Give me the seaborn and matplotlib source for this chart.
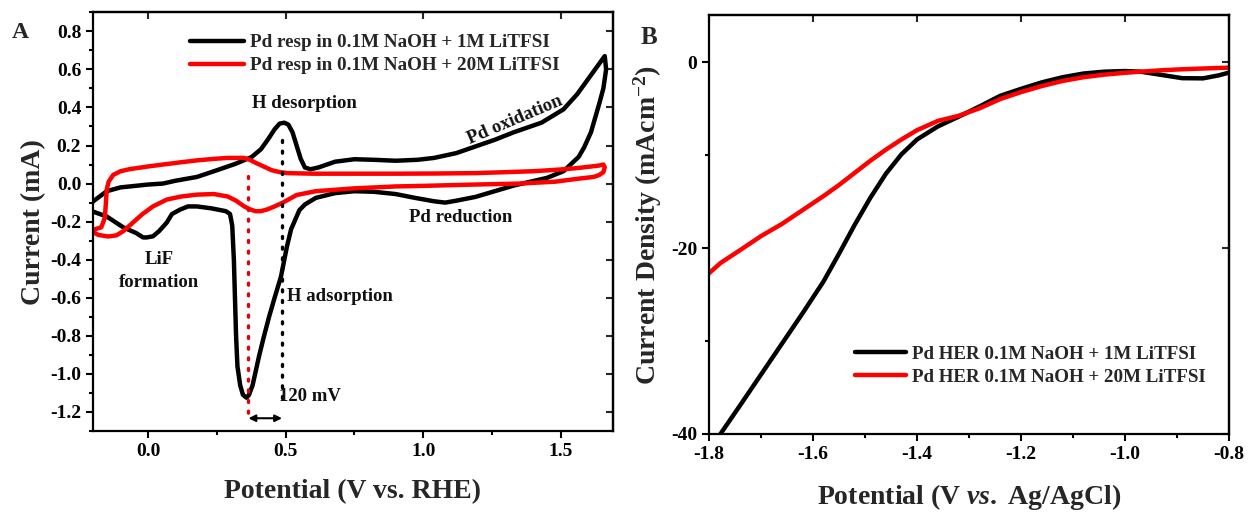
import matplotlib
matplotlib.use("Agg")
import matplotlib.pyplot as plt
import seaborn as sns
from matplotlib.ticker import MultipleLocator

# ---------------- Panel A: cyclic voltammograms ----------------
cv_1m_v = [-0.23, -0.2, -0.15, -0.1, -0.066, 0.0, 0.054, 0.1, 0.178, 0.25, 0.32, 0.377,
           0.41, 0.435, 0.46, 0.478, 0.495, 0.51, 0.525, 0.54, 0.555, 0.57, 0.59, 0.62,
           0.68, 0.75, 0.82, 0.9, 0.98, 1.04, 1.12, 1.2, 1.26, 1.33, 1.43, 1.51, 1.56,
           1.6, 1.635, 1.66,
           1.665, 1.655, 1.64, 1.61, 1.585, 1.565, 1.51, 1.45, 1.39, 1.33, 1.26, 1.19,
           1.12, 1.08, 1.04, 0.97, 0.9, 0.82, 0.75, 0.68, 0.61, 0.57, 0.55, 0.535, 0.52,
           0.505, 0.483, 0.46, 0.44, 0.42, 0.403, 0.38, 0.367, 0.358, 0.345, 0.335,
           0.325, 0.32, 0.316, 0.312, 0.306, 0.298, 0.283, 0.23, 0.178, 0.145, 0.116,
           0.087, 0.068, 0.04, 0.018, -0.005, -0.018, -0.043, -0.09, -0.15, -0.2, -0.23]
cv_1m_i = [-0.12, -0.094, -0.04, -0.02, -0.015, -0.005, 0.0, 0.015, 0.035, 0.07, 0.105, 0.14,
           0.18, 0.23, 0.285, 0.315, 0.32, 0.31, 0.27, 0.2, 0.13, 0.085, 0.075, 0.085,
           0.115, 0.128, 0.125, 0.12, 0.125, 0.135, 0.16, 0.2, 0.23, 0.27, 0.32, 0.39, 0.47,
           0.55, 0.62, 0.67,
           0.6, 0.5, 0.42, 0.27, 0.19, 0.14, 0.065, 0.03, 0.01, -0.01, -0.04, -0.07,
           -0.09, -0.1, -0.093, -0.075, -0.055, -0.043, -0.04, -0.05, -0.075, -0.11, -0.14,
           -0.19, -0.24, -0.33, -0.49, -0.6, -0.7, -0.81, -0.91, -1.06, -1.11, -1.125,
           -1.11, -1.06, -0.96, -0.8, -0.6, -0.4, -0.22, -0.16, -0.145, -0.13, -0.12,
           -0.12, -0.137, -0.16, -0.205, -0.25, -0.277, -0.283, -0.283, -0.26, -0.23,
           -0.173, -0.147, -0.12]

cv_20m_v = [-0.205, -0.17, -0.157, -0.153, -0.15, -0.143, -0.127, -0.1, -0.066, 0.0, 0.054,
            0.12, 0.178, 0.24, 0.29, 0.348, 0.37, 0.39, 0.42, 0.45, 0.48, 0.507, 0.6, 0.75,
            0.9, 1.05, 1.19, 1.3, 1.4, 1.48, 1.55, 1.6, 1.64, 1.655,
            1.66, 1.655, 1.64, 1.62, 1.56, 1.48, 1.35, 1.19, 1.0, 0.9, 0.75, 0.61, 0.54,
            0.49, 0.46, 0.435, 0.41, 0.39, 0.37, 0.35, 0.32, 0.29, 0.24, 0.178, 0.12, 0.068,
            0.018, -0.02, -0.055, -0.09, -0.115, -0.145, -0.18, -0.2, -0.205]
cv_20m_i = [-0.245, -0.23, -0.18, -0.1, -0.03, 0.01, 0.045, 0.065, 0.076, 0.09, 0.1,
            0.112, 0.122, 0.13, 0.135, 0.135, 0.125, 0.11, 0.09, 0.07, 0.06, 0.055, 0.052,
            0.052, 0.052, 0.053, 0.055, 0.06, 0.065, 0.072, 0.08, 0.088, 0.095, 0.1,
            0.085, 0.06, 0.045, 0.035, 0.025, 0.01, 0.0, -0.005, -0.012, -0.015, -0.025,
            -0.04, -0.06, -0.1, -0.12, -0.135, -0.145, -0.145, -0.135, -0.12, -0.09, -0.068,
            -0.055, -0.058, -0.068, -0.084, -0.12, -0.16, -0.205, -0.25, -0.272, -0.278,
            -0.27, -0.255, -0.245]

label_1m_A = "Pd resp in 0.1M NaOH + 1M LiTFSI"
label_20m_A = "Pd resp in 0.1M NaOH + 20M LiTFSI"

# H adsorption peak potentials (dotted guides) and their extents
peak_20m_v, peak_20m_span = 0.365, (0.04, -1.25)
peak_1m_v, peak_1m_span = 0.487, (0.23, -1.155)
shift_y = -1.233

# ---------------- Panel B: HER polarisation ----------------
her_v = [-1.8, -1.778, -1.74, -1.70, -1.66, -1.62, -1.58, -1.55, -1.52, -1.49, -1.46, -1.43,
         -1.40, -1.36, -1.32, -1.28, -1.24, -1.20, -1.16, -1.12, -1.08, -1.04, -1.00, -0.97,
         -0.93, -0.89, -0.85, -0.82, -0.80]
her_1m = [-41.8, -40.0, -36.9, -33.6, -30.3, -27.0, -23.6, -20.6, -17.5, -14.6, -12.0, -9.9,
          -8.3, -6.9, -5.85, -4.75, -3.6, -2.85, -2.15, -1.6, -1.2, -1.0, -0.93, -1.0,
          -1.35, -1.7, -1.72, -1.4, -1.1]
her_20m = [-22.7, -21.6, -20.2, -18.7, -17.4, -15.9, -14.4, -13.2, -11.9, -10.6, -9.4, -8.3,
           -7.3, -6.3, -5.75, -4.95, -3.95, -3.2, -2.55, -2.0, -1.6, -1.32, -1.12, -1.0,
           -0.85, -0.74, -0.66, -0.6, -0.57]
label_1m_B = "Pd HER 0.1M NaOH + 1M LiTFSI"
label_20m_B = "Pd HER 0.1M NaOH + 20M LiTFSI"

# ---------------- style ----------------
sns.set_theme(style="ticks")
plt.rcParams['font.family'] = ['Liberation Serif', 'DejaVu Serif']
plt.rcParams['font.weight'] = 'bold'
plt.rcParams['axes.labelweight'] = 'bold'
plt.rcParams['axes.unicode_minus'] = False
plt.rcParams['mathtext.fontset'] = 'custom'
plt.rcParams['mathtext.rm'] = 'Liberation Serif:bold'
plt.rcParams['mathtext.it'] = 'Liberation Serif:italic:bold'
plt.rcParams['mathtext.bf'] = 'Liberation Serif:bold'
plt.rcParams['axes.linewidth'] = 1.6
plt.rcParams['axes.edgecolor'] = 'black'

TICK = 14
LAB = 20

fig = plt.figure(figsize=(12.49, 5.12), dpi=100)
W, H = 1249, 512
axA = fig.add_axes([93 / W, 1 - 431 / H, 520 / W, (431 - 12.3) / H])
axB = fig.add_axes([709 / W, 1 - 434 / H, 520 / W, (434 - 15) / H])


def style_axes(ax, xmaj, xmin, ymaj, ymin):
    for s in ax.spines.values():
        s.set_visible(True)
        s.set_linewidth(1.6)
        s.set_color('black')
    ax.xaxis.set_major_locator(MultipleLocator(xmaj))
    ax.xaxis.set_minor_locator(MultipleLocator(xmin))
    ax.yaxis.set_major_locator(MultipleLocator(ymaj))
    ax.yaxis.set_minor_locator(MultipleLocator(ymin))
    ax.tick_params(which='both', direction='out', width=1.5, colors='black',
                   labelsize=TICK, top=False, right=False)
    ax.tick_params(which='major', length=5)
    ax.tick_params(which='minor', length=3)
    for lab in ax.get_xticklabels() + ax.get_yticklabels():
        lab.set_fontweight('bold')
    sx = ax.secondary_xaxis('top')
    sx.xaxis.set_major_locator(MultipleLocator(xmaj))
    sx.tick_params(direction='in', length=5, width=1.5, labeltop=False)
    sx.spines['top'].set_linewidth(1.6)
    sy = ax.secondary_yaxis('right')
    sy.yaxis.set_major_locator(MultipleLocator(ymaj))
    sy.tick_params(direction='in', length=5, width=1.5, labelright=False)
    sy.spines['right'].set_linewidth(1.6)


# ---- Panel A ----
sns.lineplot(x=cv_1m_v, y=cv_1m_i, sort=False, estimator=None, ax=axA,
             color='black', lw=3.2, label=label_1m_A)
sns.lineplot(x=cv_20m_v, y=cv_20m_i, sort=False, estimator=None, ax=axA,
             color='#ff0000', lw=3.2, label=label_20m_A)
axA.set_xlim(-0.2, 1.69)
axA.set_ylim(-1.3, 0.9)
style_axes(axA, 0.5, 0.25, 0.2, 0.1)
axA.set_xlabel("Potential (V vs. RHE)", fontsize=LAB, fontweight='bold', labelpad=14)
axA.set_ylabel("Current (mA)", fontsize=LAB, fontweight='bold', labelpad=3)

axA.plot([peak_20m_v, peak_20m_v], list(peak_20m_span), color='#e8000b', lw=2.4,
         ls=(0, (0.6, 2.6)), dash_capstyle='round')
axA.plot([peak_1m_v, peak_1m_v], list(peak_1m_span), color='black', lw=2.4,
         ls=(0, (0.6, 2.6)), dash_capstyle='round')
axA.annotate("", xy=(peak_20m_v, shift_y), xytext=(peak_1m_v, shift_y),
             arrowprops=dict(arrowstyle='<|-|>', color='black', lw=1.5,
                             mutation_scale=10, shrinkA=0, shrinkB=0))

tk = dict(fontsize=13.5, fontweight='bold', color='#111111')
axA.text(0.57, 0.42, "H desorption", ha='center', va='center', **tk)
axA.text(1.335, 0.335, "Pd oxidation", ha='center', va='center', rotation=23, **tk)
axA.text(1.135, -0.18, "Pd reduction", ha='center', va='center', **tk)
axA.text(0.04, -0.46, "LiF\nformation", ha='center', va='center',
         multialignment='center', linespacing=1.45, **tk)
axA.text(0.505, -0.593, "H adsorption", ha='left', va='center', **tk)
axA.text(0.476, -1.117, "120 mV", ha='left', va='center', **tk)

axA.legend(loc='center left', bbox_to_anchor=(0.187, 0.90), frameon=False,
           handlelength=2.8, handletextpad=0.3, labelspacing=0.3,
           borderpad=0, borderaxespad=0, prop={'weight': 'bold', 'size': 13.8})
fig.text(12 / W, 1 - 33 / H, "A", fontsize=17, fontweight='bold', va='center', ha='left')

# ---- Panel B ----
sns.lineplot(x=her_v, y=her_1m, sort=False, estimator=None, ax=axB,
             color='black', lw=3.2, label=label_1m_B)
sns.lineplot(x=her_v, y=her_20m, sort=False, estimator=None, ax=axB,
             color='#ff0000', lw=3.2, label=label_20m_B)
axB.set_xlim(-1.8, -0.8)
axB.set_ylim(-40, 5.1)
style_axes(axB, 0.2, 0.1, 20, 10)
axB.set_xlabel(r"Potential (V $\mathit{vs.}$ Ag/AgCl)", fontsize=LAB, fontweight='bold',
               labelpad=14)
axB.set_ylabel(r"Current Density (mAcm$^{\mathbf{-2}}$)", fontsize=LAB, fontweight='bold',
               labelpad=5)
axB.legend(loc='center left', bbox_to_anchor=(0.281, 0.1635), frameon=False,
           handlelength=2.7, handletextpad=0.3, labelspacing=0.3,
           borderpad=0, borderaxespad=0, prop={'weight': 'bold', 'size': 13.7})
fig.text(641 / W, 1 - 38 / H, "B", fontsize=18, fontweight='bold', va='center', ha='left')

fig.savefig("out.png", dpi=100)
